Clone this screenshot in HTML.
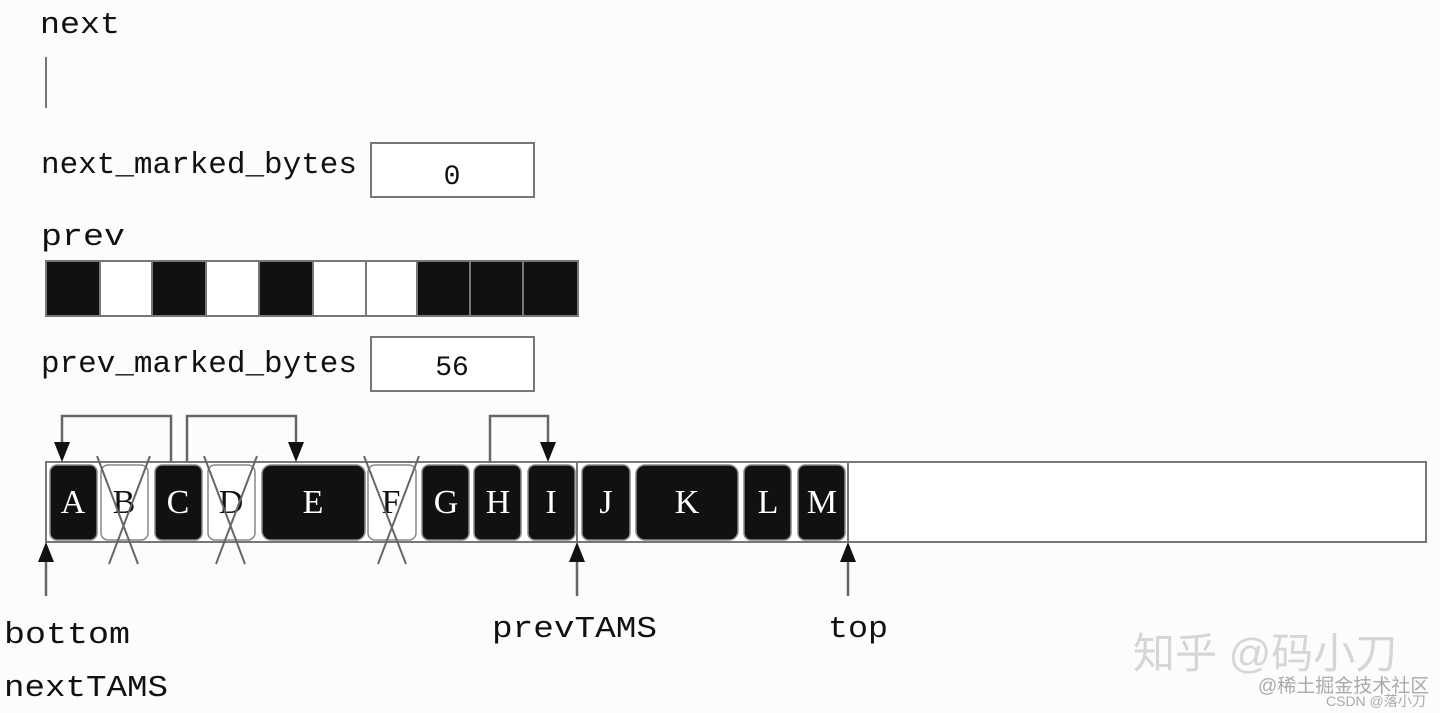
<!DOCTYPE html>
<html><head><meta charset="utf-8"><style>
html,body{margin:0;padding:0;background:#fcfcfb;}
svg{display:block}
.m{font-family:"Liberation Mono",monospace;font-size:31px;fill:#111}
.s{font-family:"Liberation Serif",serif;font-size:34px;fill:#fff}
.sb{font-family:"Liberation Serif",serif;font-size:34px;fill:#111}
</style></head><body>
<svg width="1440" height="713" viewBox="0 0 1440 713" xmlns="http://www.w3.org/2000/svg">
<rect width="1440" height="713" fill="#fcfcfb"/>
<text class="m" x="40" y="33" textLength="80" lengthAdjust="spacingAndGlyphs">next</text>
<line x1="46" y1="57" x2="46" y2="108" stroke="#777" stroke-width="2"/>
<text class="m" x="41" y="173" textLength="316" lengthAdjust="spacingAndGlyphs">next_marked_bytes</text>
<rect x="371" y="143" width="163" height="54" fill="#fff" stroke="#777" stroke-width="2"/>
<text class="m" x="452" y="184" text-anchor="middle" style="font-size:28px">0</text>
<text class="m" x="41" y="245" textLength="84" lengthAdjust="spacingAndGlyphs">prev</text>
<g stroke="#777" stroke-width="2">
<rect x="46" y="261" width="532" height="55" fill="#fff"/>
<rect x="46" y="261" width="54" height="55" fill="#111"/>
<rect x="152" y="261" width="54" height="55" fill="#111"/>
<rect x="259" y="261" width="54" height="55" fill="#111"/>
<line x1="366" y1="261" x2="366" y2="316"/>
<rect x="417" y="261" width="161" height="55" fill="#111"/>
<line x1="470" y1="261" x2="470" y2="316"/>
<line x1="523" y1="261" x2="523" y2="316"/>
</g>
<text class="m" x="41" y="372" textLength="316" lengthAdjust="spacingAndGlyphs">prev_marked_bytes</text>
<rect x="371" y="337" width="163" height="54" fill="#fff" stroke="#777" stroke-width="2"/>
<text class="m" x="452" y="375" text-anchor="middle" style="font-size:28px">56</text>

<!-- container -->
<rect x="46" y="462" width="1380" height="80" fill="#fff" stroke="#777" stroke-width="2"/>
<line x1="577" y1="462" x2="577" y2="542" stroke="#777" stroke-width="2"/>
<line x1="848" y1="462" x2="848" y2="542" stroke="#777" stroke-width="2"/>
<g stroke="#888" stroke-width="1.5">
<rect x="50" y="465" width="47" height="75" rx="7" fill="#111"/>
<rect x="101" y="465" width="47" height="75" rx="7" fill="#fff"/>
<rect x="155" y="465" width="47" height="75" rx="7" fill="#111"/>
<rect x="208" y="465" width="47" height="75" rx="7" fill="#fff"/>
<rect x="262" y="465" width="103" height="75" rx="9" fill="#111"/>
<rect x="368" y="465" width="48" height="75" rx="7" fill="#fff"/>
<rect x="422" y="465" width="47" height="75" rx="7" fill="#111"/>
<rect x="474" y="465" width="47" height="75" rx="7" fill="#111"/>
<rect x="528" y="465" width="47" height="75" rx="7" fill="#111"/>
<rect x="582" y="465" width="48" height="75" rx="7" fill="#111"/>
<rect x="636" y="465" width="102" height="75" rx="9" fill="#111"/>
<rect x="744" y="465" width="47" height="75" rx="7" fill="#111"/>
<rect x="798" y="465" width="47" height="75" rx="7" fill="#111"/>
</g>
<text class="s" x="73" y="513" text-anchor="middle">A</text>
<text class="sb" x="124" y="513" text-anchor="middle">B</text>
<text class="s" x="178" y="513" text-anchor="middle">C</text>
<text class="sb" x="231" y="513" text-anchor="middle">D</text>
<text class="s" x="313" y="513" text-anchor="middle">E</text>
<text class="sb" x="391" y="513" text-anchor="middle">F</text>
<text class="s" x="446" y="513" text-anchor="middle">G</text>
<text class="s" x="498" y="513" text-anchor="middle">H</text>
<text class="s" x="551" y="513" text-anchor="middle">I</text>
<text class="s" x="606" y="513" text-anchor="middle">J</text>
<text class="s" x="687" y="513" text-anchor="middle">K</text>
<text class="s" x="768" y="513" text-anchor="middle">L</text>
<text class="s" x="822" y="513" text-anchor="middle">M</text>
<!-- crosses -->
<g stroke="#666" stroke-width="2">
<line x1="97" y1="456" x2="138" y2="564"/><line x1="150" y1="456" x2="109" y2="564"/>
<line x1="204" y1="456" x2="245" y2="564"/><line x1="257" y1="456" x2="216" y2="564"/>
<line x1="364" y1="456" x2="406" y2="564"/><line x1="419" y1="456" x2="378" y2="564"/>
</g>
<!-- top arrows -->
<g stroke="#666" stroke-width="2.5" fill="none">
<polyline points="171,462 171,416 62,416 62,446"/>
<polyline points="187,462 187,416 296,416 296,446"/>
<polyline points="490,462 490,416 548,416 548,446"/>
<line x1="46" y1="556" x2="46" y2="596"/>
<line x1="577" y1="556" x2="577" y2="596"/>
<line x1="848" y1="556" x2="848" y2="596"/>
</g>
<g fill="#111">
<polygon points="54,442 70,442 62,462"/>
<polygon points="288,442 304,442 296,462"/>
<polygon points="540,442 556,442 548,462"/>
<polygon points="38,562 54,562 46,542"/>
<polygon points="569,562 585,562 577,542"/>
<polygon points="840,562 856,562 848,542"/>
</g>
<text class="m" x="4" y="643" textLength="126" lengthAdjust="spacingAndGlyphs">bottom</text>
<text class="m" x="4" y="696" textLength="164" lengthAdjust="spacingAndGlyphs">nextTAMS</text>
<text class="m" x="492" y="637" textLength="165" lengthAdjust="spacingAndGlyphs">prevTAMS</text>
<text class="m" x="828" y="637" textLength="60" lengthAdjust="spacingAndGlyphs">top</text>
<!-- watermarks -->
<text x="1133" y="668" style="font-family:'Liberation Sans','Noto Sans CJK SC',sans-serif;font-size:42px;fill:#d6d6d6">知乎 @码小刀</text>
<text x="1258" y="692" style="font-family:'Liberation Sans','Noto Sans CJK SC',sans-serif;font-size:19px;fill:#aaa">@稀土掘金技术社区</text>
<text x="1326" y="706" style="font-family:'Liberation Sans','Noto Sans CJK SC',sans-serif;font-size:14px;fill:#aaa">CSDN @落小刀</text>
</svg>
</body></html>
